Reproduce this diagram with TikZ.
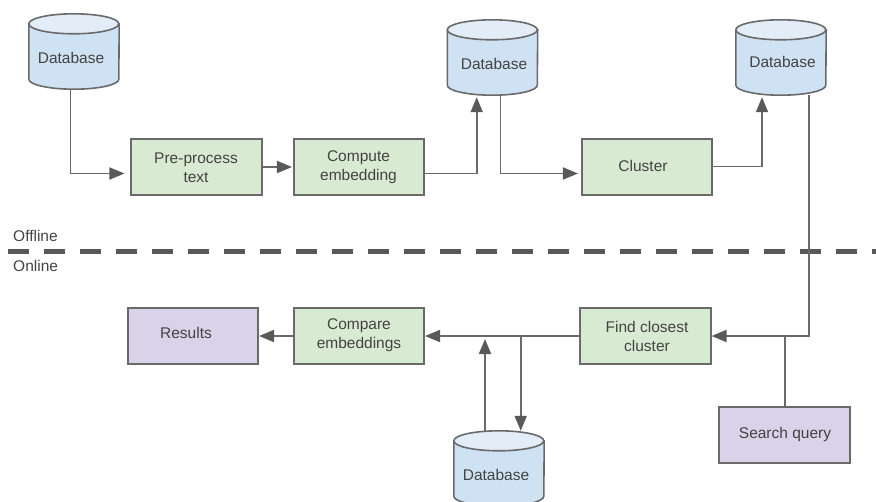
\documentclass[tikz,border=0pt]{standalone}
\usepackage{fontspec}
\setmainfont{Liberation Sans}
\usetikzlibrary{arrows.meta}
\definecolor{lnc}{HTML}{6A6A6A}
\definecolor{hdc}{HTML}{595959}
\definecolor{txc}{HTML}{434343}
\definecolor{grn}{HTML}{D9EAD3}
\definecolor{pur}{HTML}{D9D2E9}
\definecolor{blu}{HTML}{CFE2F3}
\definecolor{blt}{HTML}{E2EDF7}
\tikzset{
  x=1pt,y=-1pt,
  every node/.style={font=\fontsize{15.5}{19}\selectfont,text=txc,inner sep=0pt},
  boxs/.style={draw=lnc,line width=1.6pt,minimum width=130.5pt,minimum height=56pt},
  greenbox/.style={boxs,fill=grn},
  purplebox/.style={boxs,fill=pur},
  dbframe/.style={minimum width=90pt,minimum height=75pt},
  dbbody/.style={draw=lnc,line width=1.6pt,fill=blu},
  dbtop/.style={draw=lnc,line width=1.6pt,fill=blt},
  conn/.style={draw=lnc,line width=1.8pt,-{Triangle[length=15pt,width=12pt,color=hdc]}},
  plain/.style={draw=lnc,line width=1.8pt},
  txt/.style={align=center}
}
% cylinder drawn round a named, invisible frame node
\newcommand{\dbdraw}[1]{%
  \path[dbbody] ([yshift=-10pt]#1.north west) -- ([yshift=10pt]#1.south west)
    arc[start angle=180,end angle=360,x radius=45pt,y radius=10pt]
    -- ([yshift=-10pt]#1.north east) -- cycle;
  \path[dbtop] ([yshift=-10pt]#1.north west)
    arc[start angle=180,end angle=-180,x radius=45pt,y radius=10pt];
}
\begin{document}
\begin{tikzpicture}
\useasboundingbox (0,0) rectangle (876,501);
\node[dbframe] (db1) at (74,51.5) {};
\node[dbframe] (db2) at (492.5,57.5) {};
\node[dbframe] (db3) at (781,57.5) {};
\node[dbframe] (db4) at (499,468.5) {};
\dbdraw{db1}\dbdraw{db2}\dbdraw{db3}\dbdraw{db4}
\node (db1t) at (71,58) {Database};
\node (db2t) at (494,63.5) {Database};
\node (db3t) at (782.5,62) {Database};
\node (db4t) at (496,474.5) {Database};
\node[greenbox] (pre) at (196.5,167) {};
\node[txt] at (196,167.5) {Pre-process\\text};
\node[greenbox] (comp) at (359,167) {};
\node[txt] at (358.5,167.5) {Compute\\embedding};
\node[greenbox] (clu) at (647,167) {};
\node at (643,166) {Cluster};
\node[greenbox] (find) at (645.5,336) {};
\node[txt] at (647,336.5) {Find closest\\cluster};
\node[greenbox] (cmp) at (359,336) {};
\node[txt] at (359,335.5) {Compare\\embeddings};
\node[purplebox] (res) at (193,336) {};
\node at (186,332.5) {Results};
\node[purplebox] (sq) at (784.5,435) {};
\node at (785,434) {Search query};
\node[anchor=west] (off) at (13,236) {Offline};
\node[anchor=west] (on) at (13,266) {Online};
\coordinate (ds) at (8,251.5);
\coordinate (de) at (876,251.5);
\draw[draw=hdc,line width=5.5pt,dash pattern=on 21pt off 15pt] (ds) -- (de);
% offline
\coordinate (a1) at (70.5,173.5);
\draw[conn,shorten >=6pt] (db1.south -| a1) -- (a1) -- (pre.west |- a1);
\draw[conn,shorten >=1pt] (pre.east) -- (comp.west);
\coordinate (a2) at (476.7,173.5);
\draw[conn,shorten >=2pt] (comp.east |- a2) -- (a2) -- (db2.south -| a2);
\coordinate (a3) at (500.5,173.5);
\draw[conn,shorten >=3pt] (db2.south -| a3) -- (a3) -- (clu.west |- a3);
\coordinate (a4) at (762,166.5);
\draw[conn,shorten >=2pt] (clu.east |- a4) -- (a4) -- (db3.south -| a4);
% online
\coordinate (a5) at (808.7,336);
\draw[conn] (db3.south -| a5) -- (a5) -- (find.east);
\coordinate (a6) at (785,336);
\draw[plain] (sq.north -| a6) -- (a6);
\draw[conn] (find.west) -- (cmp.east);
\draw[conn] (cmp.west) -- (res.east);
\coordinate (a7) at (485,336);
\draw[conn,shorten >=3pt] (db4.north -| a7) -- (a7);
\coordinate (a8) at (520.7,336);
\draw[conn] (a8) -- (db4.north -| a8);
\end{tikzpicture}
\end{document}
